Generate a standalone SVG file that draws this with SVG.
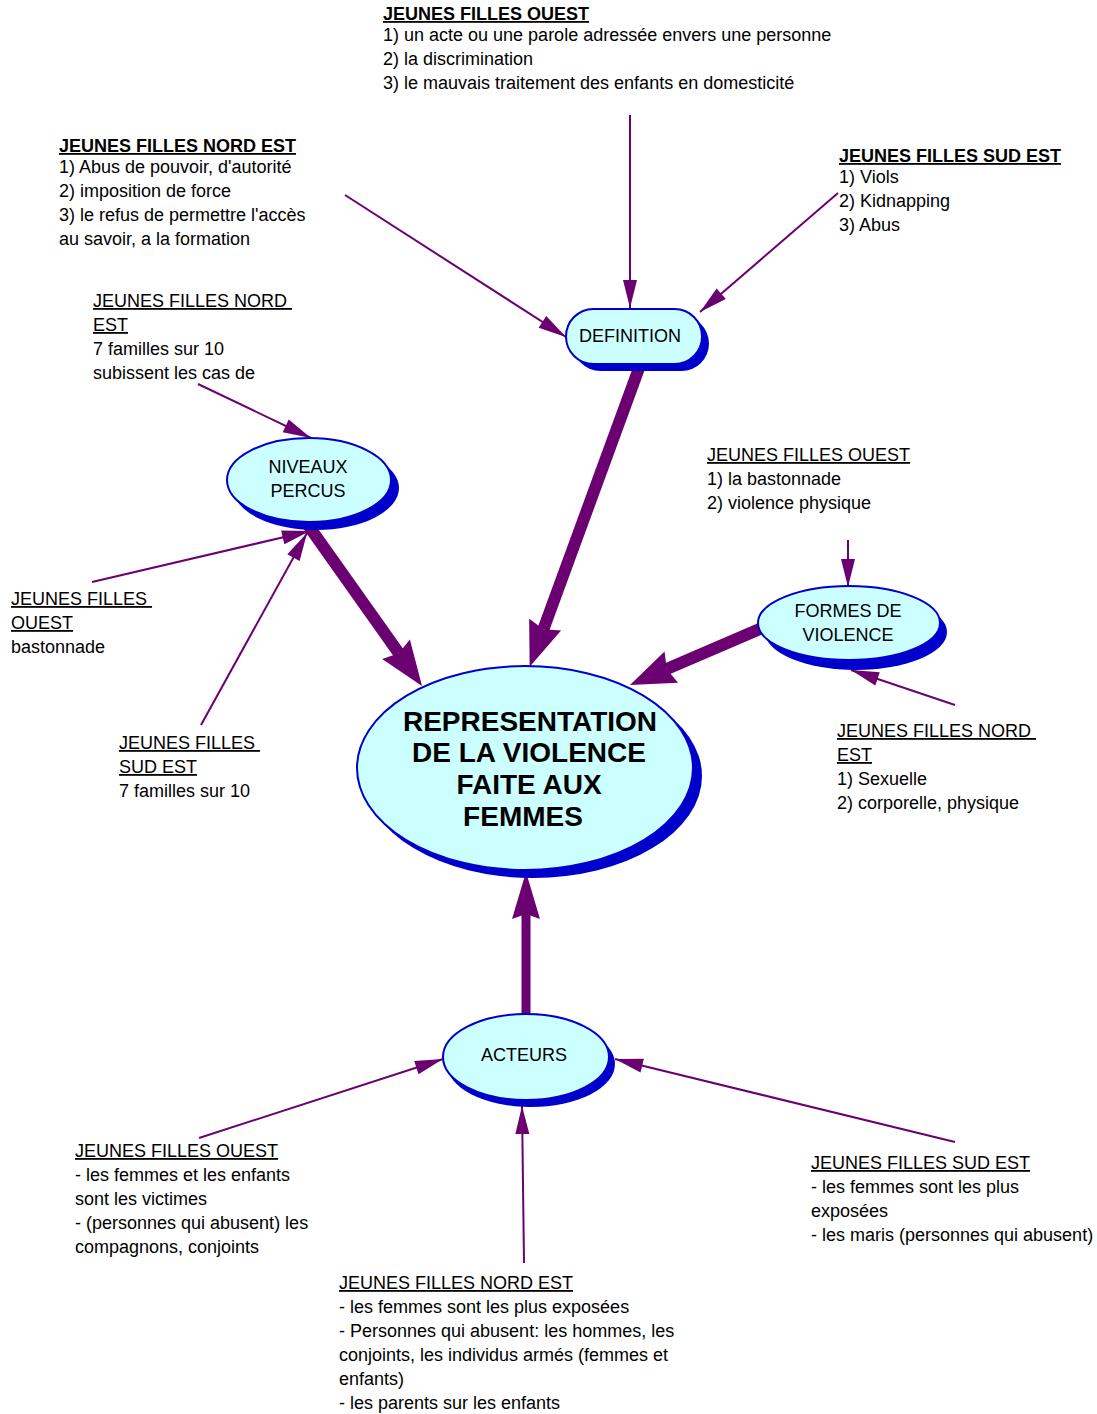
<svg xmlns="http://www.w3.org/2000/svg" width="1097" height="1414" viewBox="0 0 1097 1414">
<style>
.t{font-family:"Liberation Sans",Arial,sans-serif;font-size:18px;fill:#000}
.h{font-weight:bold;text-decoration:underline}
.u{text-decoration:underline}
.m{text-anchor:middle}
.c{font-family:"Liberation Sans",Arial,sans-serif;font-size:28px;font-weight:bold;text-anchor:middle;fill:#000}
.thin{stroke:#6B0070;stroke-width:2;fill:none;marker-end:url(#ah)}
.thick{stroke:#6B0070;stroke-width:12;fill:none;marker-end:url(#AH)}
.node{fill:#CCFFFF;stroke:#0000CC;stroke-width:2}
.sh{fill:#0000CC}
</style>
<defs>
<marker id="ah" markerUnits="userSpaceOnUse" orient="auto" markerWidth="40" markerHeight="40" refX="0" refY="0" overflow="visible">
<path d="M-28,-7 L0,0 L-28,7 z" fill="#6B0070"/>
</marker>
<marker id="AH" markerUnits="userSpaceOnUse" orient="auto" markerWidth="60" markerHeight="60" refX="0" refY="0" overflow="visible">
<path d="M-5,-17 L40,0 L-5,17 L0,0 z" fill="#6B0070"/>
</marker>
<marker id="AH2" markerUnits="userSpaceOnUse" orient="auto" markerWidth="60" markerHeight="60" refX="0" refY="0" overflow="visible">
<path d="M-5,-14 L42,0 L-5,14 L0,0 z" fill="#6B0070"/>
</marker>
</defs>
<rect width="1097" height="1414" fill="#fff"/>
<g id="connectors">
<line class="thick" x1="642" y1="360" x2="543.4" y2="629.3"/>
<line class="thick" x1="308" y1="525" x2="398.9" y2="653.3"/>
<line class="thick" x1="762" y1="628" x2="666.7" y2="669.1"/>
<line x1="526" y1="1016" x2="526" y2="914" stroke="#6B0070" stroke-width="9" marker-end="url(#AH2)"/>
<line class="thin" x1="345" y1="195" x2="566" y2="337"/>
<line class="thin" x1="630" y1="115" x2="630" y2="308"/>
<line class="thin" x1="838" y1="193" x2="700" y2="312"/>
<line class="thin" x1="198" y1="384" x2="311" y2="438"/>
<line class="thin" x1="92" y1="582" x2="310" y2="531"/>
<line class="thin" x1="201" y1="725" x2="307" y2="533"/>
<line class="thin" x1="848" y1="540" x2="848" y2="587"/>
<line class="thin" x1="955" y1="705" x2="851" y2="670"/>
<line class="thin" x1="199" y1="1138" x2="443" y2="1059"/>
<line class="thin" x1="524" y1="1263" x2="522" y2="1106"/>
<line class="thin" x1="955" y1="1142" x2="615" y2="1059"/>
</g>
<g id="node-definition">
<rect class="sh" x="573" y="316" width="136" height="55" rx="27.5"/>
<rect class="node" x="566" y="309" width="136" height="55" rx="27.5"/>
<text class="t m" x="630" y="342">DEFINITION</text>
</g>
<g id="node-niveaux">
<ellipse class="sh" cx="316" cy="488" rx="83" ry="42"/>
<ellipse class="node" cx="309" cy="480" rx="82" ry="42"/>
<text class="t m" x="308" y="473">NIVEAUX</text>
<text class="t m" x="308" y="497">PERCUS</text>
</g>
<g id="node-central">
<ellipse class="sh" cx="533" cy="776" rx="169" ry="102"/>
<ellipse class="node" cx="525" cy="768" rx="168" ry="102"/>
<text class="c" x="530" y="731">REPRESENTATION</text>
<text class="c" x="529" y="762">DE LA VIOLENCE</text>
<text class="c" x="529" y="794">FAITE AUX</text>
<text class="c" x="523" y="826">FEMMES</text>
</g>
<g id="node-formes">
<ellipse class="sh" cx="856" cy="632" rx="91" ry="38"/>
<ellipse class="node" cx="849" cy="623" rx="91" ry="37"/>
<text class="t m" x="848" y="617">FORMES DE</text>
<text class="t m" x="848" y="641">VIOLENCE</text>
</g>
<g id="node-acteurs">
<ellipse class="sh" cx="531" cy="1064" rx="84" ry="43"/>
<ellipse class="node" cx="526" cy="1057" rx="83" ry="43"/>
<text class="t m" x="524" y="1061">ACTEURS</text>
</g>
<g id="text-top">
<text class="t h" x="383" y="20">JEUNES FILLES OUEST</text>
<text class="t" x="383" y="41">1) un acte ou une parole adressée envers une personne</text>
<text class="t" x="383" y="65">2) la discrimination</text>
<text class="t" x="383" y="89">3) le mauvais traitement des enfants en domesticité</text>
</g>
<g id="text-nordest-def">
<text class="t h" x="59" y="152">JEUNES FILLES NORD EST</text>
<text class="t" x="59" y="173">1) Abus de pouvoir, d'autorité</text>
<text class="t" x="59" y="197">2) imposition de force</text>
<text class="t" x="59" y="221">3) le refus de permettre l'accès</text>
<text class="t" x="59" y="245">au savoir, a la formation</text>
</g>
<g id="text-sudest-def">
<text class="t h" x="839" y="162">JEUNES FILLES SUD EST</text>
<text class="t" x="839" y="183">1) Viols</text>
<text class="t" x="839" y="207">2) Kidnapping</text>
<text class="t" x="839" y="231">3) Abus</text>
</g>
<g id="text-nordest-niv">
<text class="t u" x="93" y="307" xml:space="preserve">JEUNES FILLES NORD </text>
<text class="t u" x="93" y="331">EST</text>
<text class="t" x="93" y="355">7 familles sur 10</text>
<text class="t" x="93" y="379">subissent les cas de</text>
</g>
<g id="text-ouest-niv">
<text class="t u" x="11" y="605" xml:space="preserve">JEUNES FILLES </text>
<text class="t u" x="11" y="629">OUEST</text>
<text class="t" x="11" y="653">bastonnade</text>
</g>
<g id="text-sudest-niv">
<text class="t u" x="119" y="749" xml:space="preserve">JEUNES FILLES </text>
<text class="t u" x="119" y="773">SUD EST</text>
<text class="t" x="119" y="797">7 familles sur 10</text>
</g>
<g id="text-ouest-formes">
<text class="t u" x="707" y="461">JEUNES FILLES OUEST</text>
<text class="t" x="707" y="485">1) la bastonnade</text>
<text class="t" x="707" y="509">2) violence physique</text>
</g>
<g id="text-nordest-formes">
<text class="t u" x="837" y="737" xml:space="preserve">JEUNES FILLES NORD </text>
<text class="t u" x="837" y="761">EST</text>
<text class="t" x="837" y="785">1) Sexuelle</text>
<text class="t" x="837" y="809">2) corporelle, physique</text>
</g>
<g id="text-ouest-act">
<text class="t u" x="75" y="1157">JEUNES FILLES OUEST</text>
<text class="t" x="75" y="1181">- les femmes et les enfants</text>
<text class="t" x="75" y="1205">sont les victimes</text>
<text class="t" x="75" y="1229">- (personnes qui abusent) les</text>
<text class="t" x="75" y="1253">compagnons, conjoints</text>
</g>
<g id="text-nordest-act">
<text class="t u" x="339" y="1289">JEUNES FILLES NORD EST</text>
<text class="t" x="339" y="1313">- les femmes sont les plus exposées</text>
<text class="t" x="339" y="1337">- Personnes qui abusent: les hommes, les</text>
<text class="t" x="339" y="1361">conjoints, les individus armés (femmes et</text>
<text class="t" x="339" y="1385">enfants)</text>
<text class="t" x="339" y="1409">- les parents sur les enfants</text>
</g>
<g id="text-sudest-act">
<text class="t u" x="811" y="1169">JEUNES FILLES SUD EST</text>
<text class="t" x="811" y="1193">- les femmes sont les plus</text>
<text class="t" x="811" y="1217">exposées</text>
<text class="t" x="811" y="1241">- les maris (personnes qui abusent)</text>
</g>
</svg>
